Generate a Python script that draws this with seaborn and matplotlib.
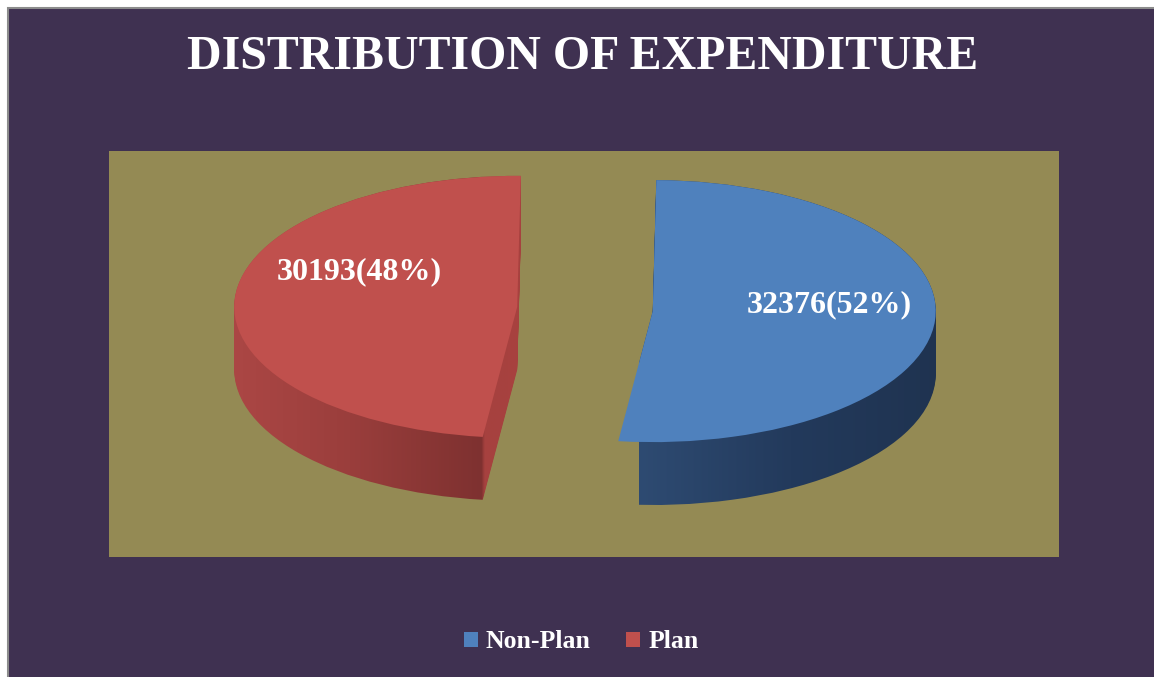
import numpy as np
import seaborn as sns
from matplotlib import pyplot as plt
from matplotlib.colors import LinearSegmentedColormap
from matplotlib.patches import Rectangle, Patch

# data
categories = ['Non-Plan', 'Plan']
expenditure = [32376, 30193]
top_colors = ['#4F81BD', '#C0504D']
# side shading, (position, colour) left -> right
side_colors = [[(0.0, '#2E4B72'), (0.5, '#233A5C'), (1.0, '#1F3350')],
               [(0.0, '#AC4745'), (0.4, '#9A3E3C'), (0.835, '#7E3130'),
                (0.845, '#A6413F'), (1.0, '#A8423F')]]

title = 'DISTRIBUTION OF EXPENDITURE'
purple = '#3F3151'
olive = '#948A54'

sns.set_theme(style='white')
plt.rcParams['font.family'] = ['Liberation Serif', 'DejaVu Serif']

fig = plt.figure(figsize=(11.54, 6.77), dpi=100)
fig.patch.set_facecolor('white')
# purple chart area with grey frame on top / left
fig.patches.append(Rectangle((8 / 1154, -0.05), 1.1, 1.05 - 8 / 677,
                             transform=fig.transFigure, facecolor=purple,
                             edgecolor='#8C8C8C', linewidth=1.5, zorder=-5))

ax = fig.add_axes([109 / 1154, 120 / 677, 950 / 1154, 406 / 677])
ax.set_zorder(1)

start = -97
explode = [0.24, 0.24]
depth = 0.48
n_layers = 40

cmaps = [LinearSegmentedColormap.from_list(f'side{i}', cols)
         for i, cols in enumerate(side_colors)]
grad = np.linspace(0, 1, 512).reshape(1, -1)

# side walls: stacked pies, filled with a horizontal gradient
for d in np.linspace(depth, 0.0, n_layers):
    wedges, _ = ax.pie(expenditure, startangle=start, explode=explode,
                       center=(0, -d), colors=top_colors,
                       wedgeprops=dict(linewidth=0))
    for i, w in enumerate(wedges):
        cx = w.center[0]
        x0, x1 = (cx - 0.05, cx + 1.02) if i == 0 else (cx - 1.02, cx + 0.05)
        im = ax.imshow(grad, cmap=cmaps[i], extent=(x0, x1, -1.6, 1.2),
                       aspect='auto', zorder=1)
        im.set_clip_path(w)
        w.set_visible(False)

# top faces
tops, _ = ax.pie(expenditure, startangle=start, explode=explode,
                 colors=top_colors, wedgeprops=dict(linewidth=0, zorder=5))

# value labels
label_pos = [(0.625, 4.5), (0.62, 154)]
total = sum(expenditure)
for w, v, (r, ang) in zip(tops, expenditure, label_pos):
    cx, cy = w.center
    x = cx + r * np.cos(np.radians(ang))
    y = cy + r * np.sin(np.radians(ang))
    ax.text(x, y, f'{v}({v / total * 100:.0f}%)', ha='center', va='center',
            color='white', fontsize=23, fontweight='bold', zorder=10)

ax.set_aspect('auto')
ax.set_xlim(-1.682, 1.675)
ax.set_ylim(-1.893, 1.206)
ax.set_frame_on(True)
ax.set_facecolor(olive)
for s in ax.spines.values():
    s.set_visible(False)
ax.set_xticks([])
ax.set_yticks([])

fig.text(583 / 1154, 1 - 57 / 677, title, ha='center', va='center',
         color='white', fontsize=34.5, fontweight='bold')

handles = [Patch(facecolor=c, edgecolor='none') for c in top_colors]
fig.legend(handles, categories, loc='center', bbox_to_anchor=(581 / 1154, 1 - 642 / 677),
           ncol=2, frameon=False, labelcolor='white',
           prop=dict(family='Liberation Serif', weight='bold', size=18.5),
           handlelength=0.55, handleheight=0.55, handletextpad=0.3,
           columnspacing=1.4)

fig.savefig('out.png', dpi=100)
